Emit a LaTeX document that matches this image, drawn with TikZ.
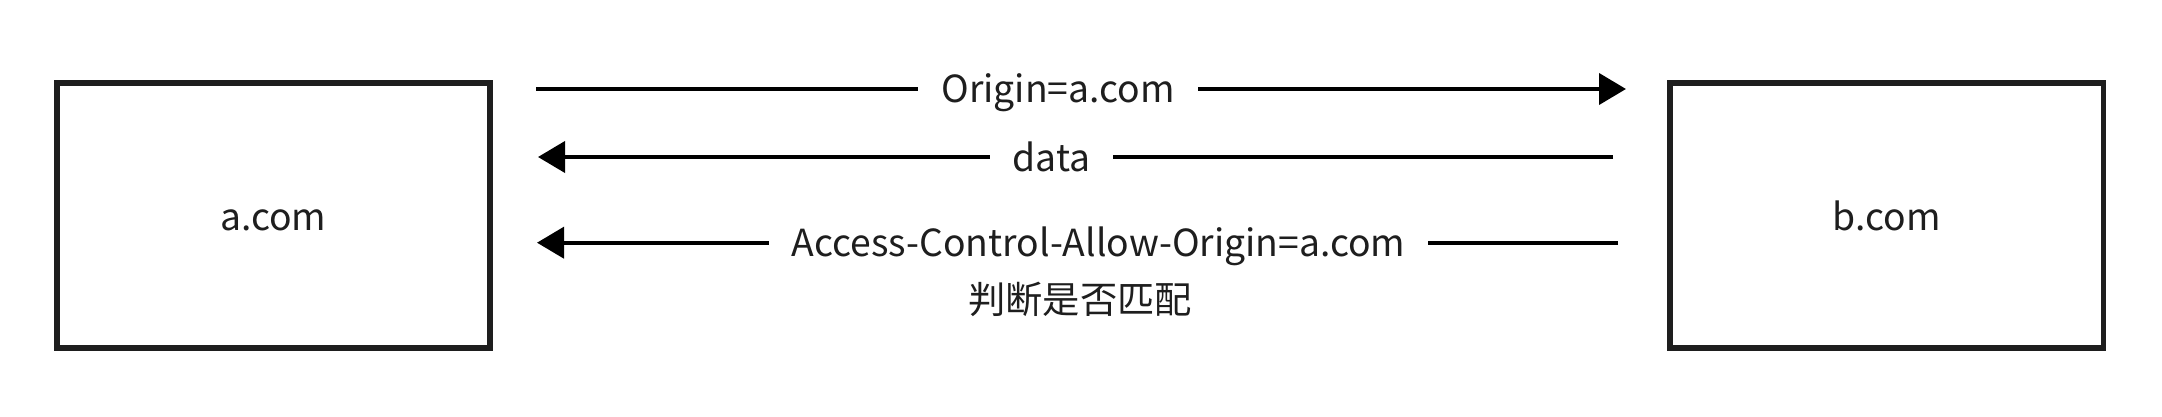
\documentclass[tikz,border=0pt]{standalone}
\usepackage{fontspec}
\setmainfont{Noto Sans CJK SC}
\usetikzlibrary{arrows.meta}
\definecolor{ink}{HTML}{1E1E1E}
\newcommand{\labfont}{\fontsize{37.3}{42}\selectfont}
\tikzset{
  box/.style={draw=ink, line width=5.5pt, fill=white, minimum width=433.2pt, minimum height=265.2pt, inner sep=0pt, text=ink, font=\labfont, text height=29.2pt, text depth=0pt},
  conn/.style={draw=black, line width=4pt, -{Triangle[length=27pt,width=31pt]}},
  lab/.style={fill=white, inner xsep=23pt, inner ysep=2pt, anchor=base, text=ink, font=\labfont},
  note/.style={inner sep=0pt, anchor=base, text=ink, font=\labfont}
}
\begin{document}
\begin{tikzpicture}[x=1pt,y=-1pt]
\useasboundingbox (0,0) rectangle (2162,417);
\node[box] (a) at (273.4,215.4) {a.com};
\node[box] (b) at (1886.75,215.4) {b.com};
\coordinate (s1) at (536,89);
\coordinate (e1) at (1626,89);
\coordinate (s2) at (1613,157);
\coordinate (e2) at (538,157);
\coordinate (s3) at (1618,242.7);
\coordinate (e3) at (537,242.7);
\draw[conn] (s1) -- (e1);
\draw[conn] (s2) -- (e2);
\draw[conn] (s3) -- (e3);
\node[lab] (l1) at (1058,103) {Origin=a.com};
\node[lab] (l2) at (1051.5,171.7) {data};
\node[lab] (l3) at (1098.5,256.7) {Access-Control-Allow-Origin=a.com};
\node[note] (l4) at (1080,313) {判断是否匹配};
\end{tikzpicture}
\end{document}
